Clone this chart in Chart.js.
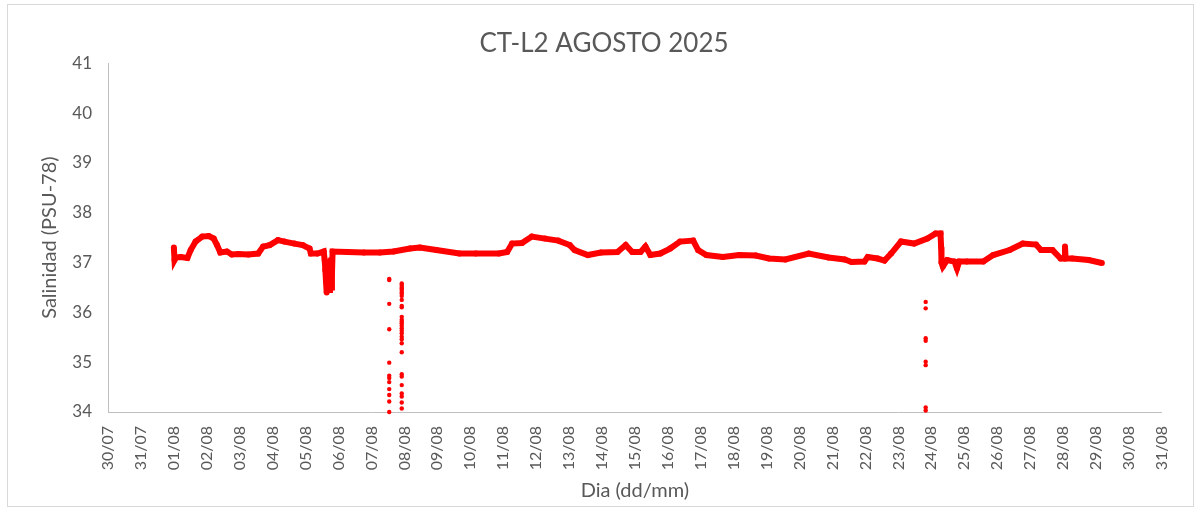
<!DOCTYPE html>
<html>
<head>
<meta charset="utf-8">
<title>CT-L2 AGOSTO 2025</title>
<script src="https://cdn.jsdelivr.net/npm/chart.js@4.4.1/dist/chart.umd.min.js"></script>
<style>
  html, body { margin: 0; padding: 0; background: #fff; }
  #wrap { width: 1195px; height: 508px; position: relative; }
</style>
</head>
<body>
<div id="wrap"><canvas id="salinityChart"></canvas></div>
<script>
// Tick labels for the day axis (index 0 = 30/07 at day -1)
const dayLabels = ['30/07', '31/07', '01/08', '02/08', '03/08', '04/08', '05/08', '06/08', '07/08',
    '08/08', '09/08', '10/08', '11/08', '12/08', '13/08', '14/08', '15/08', '16/08', '17/08',
    '18/08', '19/08', '20/08', '21/08', '22/08', '23/08', '24/08', '25/08', '26/08', '27/08',
    '28/08', '29/08', '30/08', '31/08'];
const yMin = 34;
const yMax = 41;

// Main salinity trace: day of August (01/08 = 1) and value
const mainDays = [1.00, 1.02, 1.06, 1.21, 1.41, 1.51, 1.66, 1.86, 2.06, 2.21, 2.31, 2.41, 2.61, 2.76,
    2.96, 3.26, 3.56, 3.71, 3.91, 4.16, 4.36, 4.66, 4.91, 5.12, 5.16, 5.36, 5.55, 5.58, 5.60, 5.62,
    5.64, 5.66, 5.68, 5.70, 5.72, 5.74, 5.76, 5.78, 5.80, 5.82, 6.27, 6.77, 7.26, 7.67, 8.17, 8.47,
    8.97, 9.67, 10.17, 10.87, 11.12,
    11.27, 11.57, 11.87, 12.27, 12.67, 13.02, 13.17, 13.57, 13.97, 14.47, 14.72, 14.92, 15.17,
    15.32, 15.47, 15.77, 16.07, 16.37, 16.77, 16.92, 17.17, 17.67, 18.17, 18.67, 19.07, 19.57,
    20.28, 20.88, 21.37, 21.58, 21.97, 22.07, 22.37, 22.58, 22.78, 23.08, 23.48, 23.88, 24.13,
    24.28, 24.30, 24.31, 24.35, 24.48, 24.70, 24.78, 24.85, 25.08, 25.58, 25.88, 26.38, 26.78,
    27.18, 27.33, 27.68, 27.93, 28.04, 28.06, 28.08, 28.28, 28.78, 29.18];
const mainSal = [37.30, 37.05, 37.10, 37.11, 37.09, 37.25, 37.42, 37.52, 37.53, 37.48, 37.35, 37.20,
    37.22, 37.16, 37.17, 37.16, 37.18, 37.32, 37.35, 37.45, 37.42, 37.38, 37.35, 37.28, 37.18,
    37.18, 37.22, 37.05, 36.85, 36.62, 36.40, 36.70, 36.95, 36.60, 36.45, 36.80, 37.05, 36.50,
    36.75, 37.22, 37.21, 37.20, 37.20, 37.22,
    37.28, 37.30, 37.25, 37.18, 37.18, 37.18, 37.21, 37.38, 37.39, 37.52, 37.48, 37.44, 37.35,
    37.25, 37.15, 37.20, 37.21, 37.35, 37.21, 37.21, 37.32, 37.15, 37.18, 37.28, 37.42, 37.44,
    37.25, 37.15, 37.11, 37.15, 37.14, 37.08, 37.06, 37.18, 37.10, 37.06, 37.01, 37.02, 37.11,
    37.08, 37.04, 37.18, 37.42, 37.38, 37.48, 37.58, 37.58, 37.30, 37.00, 36.92, 37.05, 37.02,
    36.88, 37.02, 37.02, 37.02, 37.15, 37.25, 37.38, 37.36, 37.25, 37.25, 37.08, 37.08, 37.32,
    37.08, 37.08, 37.05, 36.99];

// Isolated low readings (outliers)
const outlierDays = [7.54, 7.54, 7.54, 7.54, 7.54, 7.54, 7.54, 7.54, 7.54, 7.54, 7.54, 7.54,
    7.92, 7.92, 7.92, 7.92, 7.92, 7.92, 7.92, 7.92, 7.92, 7.92, 7.92, 7.92, 7.92, 7.92, 7.92,
    7.92, 7.92, 7.92, 7.92, 7.92, 7.92, 7.92, 7.92, 7.92, 7.92, 7.92, 7.92, 7.92, 7.92, 7.92,
    23.83, 23.83, 23.83, 23.83, 23.83, 23.83, 23.83, 23.83];
const outlierSal = [36.65, 36.67, 36.17, 35.66, 34.99, 34.73, 34.68, 34.60, 34.46, 34.34, 34.21, 34.00,
    36.58, 36.55, 36.51, 36.48, 36.45, 36.41, 36.38, 36.33, 36.25, 36.13, 36.10, 35.91, 35.85,
    35.81, 35.78, 35.73, 35.68, 35.63, 35.58, 35.51, 35.46, 35.38, 35.20, 34.76, 34.71, 34.54,
    34.37, 34.31, 34.19, 34.07,
    36.21, 36.08, 35.48, 35.43, 35.01, 34.94, 34.09, 34.03];

const textColor = '#595959';
const axisColor = '#bfbfbf';
const red = 'rgb(255, 0, 0)';

function toPoints(xs, ys) {
    return xs.map((x, i) => ({ x: x, y: ys[i] }));
}

// light frame around the whole chart, like the spreadsheet chart border
const framePlugin = {
    id: 'frame',
    beforeDraw(chart) {
        const ctx = chart.ctx;
        ctx.save();
        ctx.fillStyle = '#ffffff';
        ctx.fillRect(0, 0, chart.width, chart.height);
        ctx.strokeStyle = '#d9d9d9';
        ctx.lineWidth = 1;
        ctx.strokeRect(7.5, 4.5, 1186, 502);
        ctx.restore();
    }
};

document.addEventListener('DOMContentLoaded', function () {
    const ctx = document.getElementById('salinityChart').getContext('2d');
    new Chart(ctx, {
        type: 'scatter',
        data: {
            datasets: [{
                label: 'Salinidad',
                data: toPoints(mainDays, mainSal),
                showLine: true,
                borderColor: red,
                backgroundColor: red,
                borderWidth: 6,
                pointRadius: 3,
                pointBorderWidth: 0,
                tension: 0,
                clip: false,
            }, {
                label: 'Salinidad (puntual)',
                data: toPoints(outlierDays, outlierSal),
                showLine: false,
                borderColor: red,
                backgroundColor: red,
                pointRadius: 2.2,
                pointBorderWidth: 0,
                clip: false,
            }],
        },
        options: {
            responsive: true,
            maintainAspectRatio: false,
            animation: false,
            layout: { padding: { left: 34, right: 21, top: 0, bottom: 1 } },
            plugins: {
                legend: { display: false },
                tooltip: { enabled: false },
                title: {
                    display: true,
                    text: 'CT-L2 AGOSTO 2025',
                    color: textColor,
                    font: { family: 'Lato', size: 26, weight: 'normal' },
                    padding: { top: 28, bottom: 4 },
                },
            },
            scales: {
                x: {
                    type: 'linear',
                    min: -1,
                    max: 31,
                    grid: { display: false, drawTicks: false },
                    border: { display: true, color: axisColor, width: 1 },
                    ticks: {
                        stepSize: 1,
                        autoSkip: false,
                        minRotation: 90,
                        maxRotation: 90,
                        padding: 14,
                        color: textColor,
                        font: { family: 'Lato', size: 16 },
                        callback: (value) => dayLabels[value + 1],
                    },
                    title: {
                        display: true,
                        text: 'Dia (dd/mm)',
                        color: textColor,
                        font: { family: 'Lato', size: 20 },
                    },
                    afterFit: (scale) => { scale.height = 95; },
                },
                y: {
                    min: yMin,
                    max: yMax,
                    grid: { display: false, drawTicks: false },
                    border: { display: true, color: axisColor, width: 1 },
                    ticks: {
                        stepSize: 1,
                        padding: 16,
                        color: textColor,
                        font: { family: 'Lato', size: 17 },
                    },
                    title: {
                        display: true,
                        text: 'Salinidad (PSU-78)',
                        color: textColor,
                        font: { family: 'Lato', size: 20 },
                    },
                    afterFit: (scale) => { scale.width = 74; },
                },
            },
        },
        plugins: [framePlugin],
    });
});
</script>
</body>
</html>
